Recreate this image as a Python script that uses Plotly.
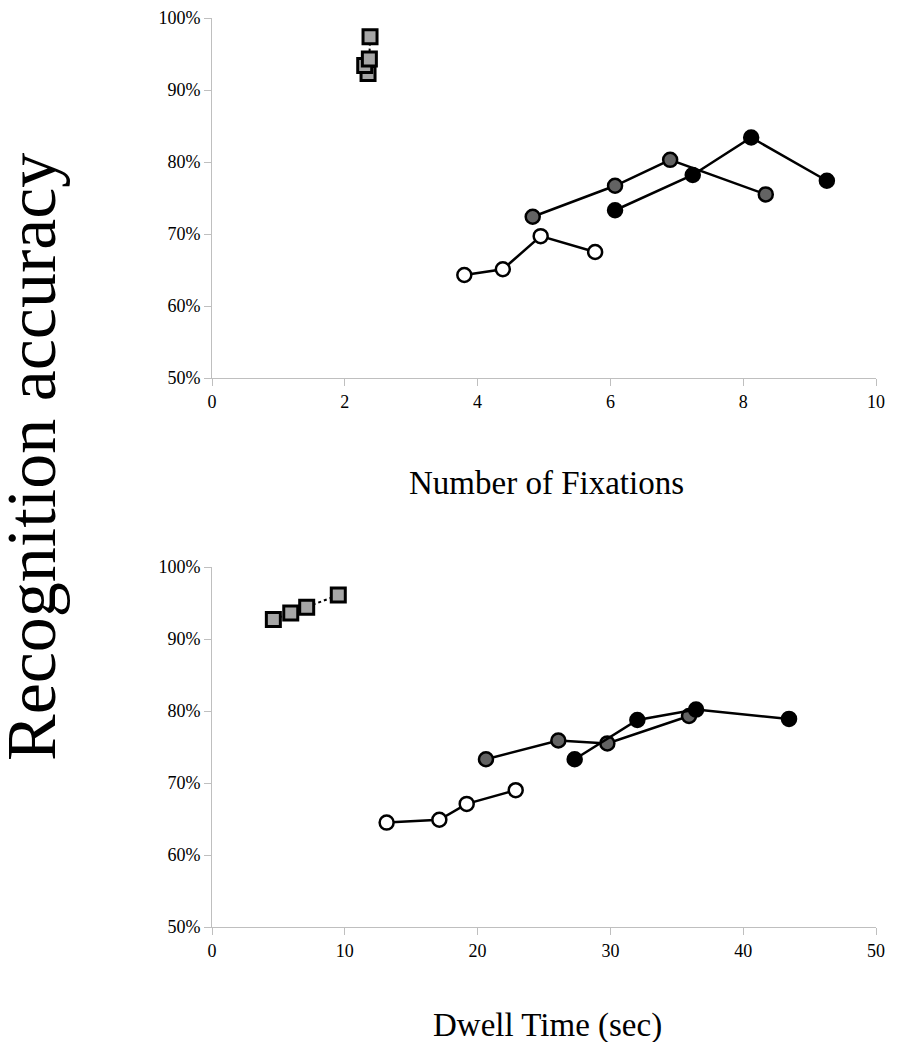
import plotly.graph_objects as go

# ---- Data ----
# Top panel: Number of Fixations vs Recognition accuracy (%)
fix_square_x = [2.35, 2.30, 2.37, 2.38]
fix_square_y = [92.3, 93.4, 94.3, 97.4]
fix_open_x = [3.80, 4.38, 4.95, 5.77]
fix_open_y = [64.3, 65.1, 69.7, 67.5]
fix_gray_x = [4.83, 6.07, 6.90, 8.34]
fix_gray_y = [72.4, 76.7, 80.3, 75.5]
fix_black_x = [6.07, 7.24, 8.12, 9.26]
fix_black_y = [73.3, 78.2, 83.4, 77.4]

# Bottom panel: Dwell Time (sec) vs Recognition accuracy (%)
dwell_square_x = [4.62, 5.93, 7.13, 9.51]
dwell_square_y = [92.7, 93.6, 94.4, 96.1]
dwell_open_x = [13.15, 17.12, 19.18, 22.87]
dwell_open_y = [64.5, 64.9, 67.1, 69.0]
dwell_gray_x = [20.63, 26.08, 29.77, 35.92]
dwell_gray_y = [73.3, 75.9, 75.5, 79.3]
dwell_black_x = [27.31, 32.03, 36.45, 43.45]
dwell_black_y = [73.3, 78.75, 80.2, 78.9]

y_ticks = [50, 60, 70, 80, 90, 100]
y_ticktext = ["50%", "60%", "70%", "80%", "90%", "100%"]
fix_ticks = [0, 2, 4, 6, 8, 10]
dwell_ticks = [0, 10, 20, 30, 40, 50]

# the page body has an 8px margin; size the figure so it fits the window exactly
OFF = 8
W, H = 897 - 2 * OFF, 1050 - 2 * OFF
FONT = "Liberation Serif"

fig = go.Figure()

def add_series(x, y, xa, ya, kind):
    if kind == "square":
        fig.add_trace(go.Scatter(
            x=x, y=y, xaxis=xa, yaxis=ya, mode="lines+markers",
            line=dict(color="black", width=2, dash="dot"),
            marker=dict(symbol="square", size=14, color="#a6a6a6",
                        line=dict(color="black", width=3)),
            showlegend=False, cliponaxis=False))
    else:
        fill = {"open": "white", "gray": "#636363", "black": "black"}[kind]
        fig.add_trace(go.Scatter(
            x=x, y=y, xaxis=xa, yaxis=ya, mode="lines+markers",
            line=dict(color="black", width=2.5),
            marker=dict(symbol="circle", size=14, color=fill,
                        line=dict(color="black", width=2.5)),
            showlegend=False, cliponaxis=False))

add_series(fix_open_x, fix_open_y, "x", "y", "open")
add_series(fix_gray_x, fix_gray_y, "x", "y", "gray")
add_series(fix_black_x, fix_black_y, "x", "y", "black")
add_series(fix_square_x, fix_square_y, "x", "y", "square")

add_series(dwell_open_x, dwell_open_y, "x2", "y2", "open")
add_series(dwell_gray_x, dwell_gray_y, "x2", "y2", "gray")
add_series(dwell_black_x, dwell_black_y, "x2", "y2", "black")
add_series(dwell_square_x, dwell_square_y, "x2", "y2", "square")

# screen pixel -> paper helpers
def px(x):
    return (x - OFF) / W
def py(y):
    return 1 - (y - OFF) / H

def axis(**kw):
    d = dict(showline=True, linecolor="#bfbfbf", linewidth=1,
             ticks="outside", ticklen=7, tickcolor="#bfbfbf", tickwidth=1,
             showgrid=False, zeroline=False, automargin=False,
             tickmode="array",
             tickfont=dict(family=FONT, size=18, color="black"))
    d.update(kw)
    return d

x_dom = [px(212), px(876)]
fig.update_layout(
    width=W, height=H,
    margin=dict(l=0, r=0, t=0, b=0),
    paper_bgcolor="white", plot_bgcolor="white",
    font=dict(family=FONT, color="black"),
    xaxis=axis(domain=x_dom, anchor="y", range=[0, 10], tickvals=fix_ticks,
               ticktext=[str(v) for v in fix_ticks]),
    yaxis=axis(domain=[py(378), py(18)], anchor="x", range=[50, 100],
               tickvals=y_ticks, ticktext=y_ticktext),
    xaxis2=axis(domain=x_dom, anchor="y2", range=[0, 50], tickvals=dwell_ticks,
                ticktext=[str(v) for v in dwell_ticks]),
    yaxis2=axis(domain=[py(927), py(567)], anchor="x2", range=[50, 100],
                tickvals=y_ticks, ticktext=y_ticktext),
    annotations=[
        dict(text="Number of Fixations", xref="paper", yref="paper",
             x=px(546), y=py(483), xanchor="center", yanchor="middle", showarrow=False,
             font=dict(family=FONT, size=33, color="black")),
        dict(text="Dwell Time (sec)", xref="paper", yref="paper",
             x=px(547), y=py(1025), xanchor="center", yanchor="middle", showarrow=False,
             font=dict(family=FONT, size=33, color="black")),
        dict(text="Recognition accuracy", xref="paper", yref="paper",
             x=px(31), y=py(457), xanchor="center", yanchor="middle", showarrow=False,
             textangle=-90, font=dict(family=FONT, size=70, color="black")),
    ],
)

fig.write_html("out.html")
